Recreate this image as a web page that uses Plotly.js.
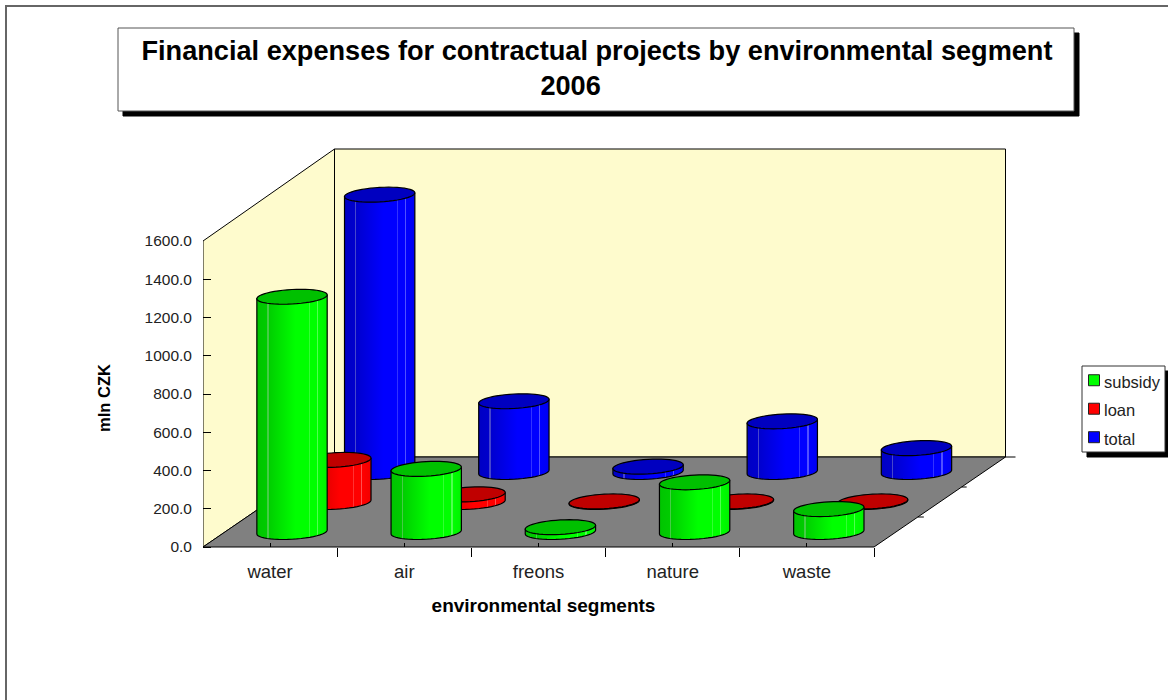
<!DOCTYPE html>
<html><head><meta charset="utf-8">
<script src="https://cdn.plot.ly/plotly-3.0.1.min.js"></script>
<style>html,body{margin:0;padding:0;background:#fff}</style>
</head><body><div id="chart" style="width:1168px;height:700px"></div>
<script>
const categories = ['water','air','freons','nature','waste'];
const subsidy = [1230,330,25,260,120];
const loan = [220,40,3,3,3];
const total = [1450,370,28,265,125];
const yTicks = [0,200,400,600,800,1000,1200,1400,1600];

const W=1168,H=700,L=203,R=874,T=241,B=547;
// outer drawing area (holds the oblique walls and floor)
const AL=203,AR=1030,AT=140,AB=555;
const kx=(R-L)/categories.length, ky=(B-T)/1600;
const DX=131.5/kx, DY=90/ky;               // depth vector in axis units
const ux=p=>p/kx, uy=p=>p/ky;
const px=x=>(x-AL)/(AR-AL), py=y=>(AB-y)/(AB-AT);

function line(xs,ys,color,width){return {x:xs,y:ys,mode:'lines',line:{color:color||'#000',width:width||1,simplify:false},
  hoverinfo:'skip',showlegend:false};}
function poly(xs,ys,color,width){return {x:xs,y:ys,mode:'lines',fill:'toself',fillcolor:color,line:{color:'#000',width:width||1,simplify:false},
  hoverinfo:'skip',showlegend:false};}

const n=categories.length, backTop=uy(B-149);
const traces=[];
traces.push(poly([0,DX,DX,0,0],[0,DY,backTop,1600,0],'#fefbcd'));
traces.push(poly([DX,n+DX,n+DX,DX,DX],[DY,DY,backTop,backTop,DY],'#fefbcd'));
traces.push(poly([0,n,n+DX,DX,0],[0,0,DY,DY,0],'#808080'));
// depth ticks on the floor's right edge
[[1/3,ux(6)],[2/3,ux(5)],[1,ux(10)]].forEach(([d,len])=>{
  traces.push(line([n+d*DX,n+d*DX+len],[d*DY,d*DY]));
});

function rgb(ch,v,l){const c=[l,l,l];c[ch]=v;return `rgb(${c[0]},${c[1]},${c[2]})`;}
function scale(ch){
  const s=(a,v,l)=>[a,rgb(ch,v,l||0)];
  return [s(0,196),s(.15,204),s(.15,204,70),s(.17,204,70),s(.17,206),s(.55,255),s(.74,255),s(.74,255,50),s(.755,255,50),s(.755,255),
          s(.855,255),s(.855,255,80),s(.875,255,80),s(.875,255),s(.96,246),s(1,240)];
}
const A=ux(34),Bx=ux(9),C=uy(7.5),t0=Math.atan2(9,34),STEPS=24;
function ell(cx,cy,t){return [cx+A*Math.cos(t)+Bx*Math.sin(t), cy+C*Math.sin(t)];}
function cylinder(i,row,val,ch){
  const d=(row+.5)/3, cx=i+.5+d*DX, cy=d*DY, top=cy+val;
  const bx=[],by=[];
  let p=ell(cx,top,t0); bx.push(p[0]); by.push(p[1]);
  for(let k=0;k<=STEPS;k++){p=ell(cx,cy,t0-Math.PI*k/STEPS);bx.push(p[0]);by.push(p[1]);}
  p=ell(cx,top,t0-Math.PI); bx.push(p[0]); by.push(p[1]); bx.push(bx[0]); by.push(by[0]);
  const left=cx-Math.hypot(A,Bx), right=cx+Math.hypot(A,Bx);
  const body=poly(bx,by,rgb(ch,255,0),1.2);
  body.fillgradient={type:'horizontal',start:left,stop:right,colorscale:scale(ch)};
  traces.push(body);
  const tx=[],ty=[];
  for(let k=0;k<=STEPS*2;k++){p=ell(cx,top,Math.PI*k/STEPS);tx.push(p[0]);ty.push(p[1]);}
  traces.push(poly(tx,ty,rgb(ch,192,0),1.2));
}
total.forEach((v,i)=>cylinder(i,2,v,2));
loan.forEach((v,i)=>cylinder(i,1,v,0));
subsidy.forEach((v,i)=>cylinder(i,0,v,1));

// legend entries live on the visible tick axes, which sit over the marks
[['subsidy','#00ff00'],['loan','#ff0000'],['total','#0000ff']].forEach(([name,c])=>{
  traces.push({x:[null],y:[null],xaxis:'x2',yaxis:'y2',mode:'markers',
    name:`<span style="font-size:16.5px">${name}</span>`,showlegend:true,hoverinfo:'skip',
    marker:{symbol:'square',size:11,color:c,line:{color:'#222',width:1}}});
});

const FONT='"Liberation Sans", Arial, sans-serif';
function rect(x0,y0,x1,y1,fill,lineColor,w){return {type:'rect',xref:'paper',yref:'paper',layer:'below',
  x0:px(x0),x1:px(x1),y0:py(y1),y1:py(y0),fillcolor:fill,line:{color:lineColor||fill,width:w===undefined?1:w}};}
const layout={
  width:W,height:H,paper_bgcolor:'#fff',plot_bgcolor:'rgba(0,0,0,0)',
  margin:{l:AL,r:W-AR,t:AT,b:H-AB,pad:0,autoexpand:false},
  font:{family:FONT,color:'#000'},
  title:{text:'<b>Financial expenses for contractual projects by environmental segment<br>2006&nbsp;&nbsp;&nbsp;&nbsp;&nbsp;&nbsp;&nbsp;</b>',
    font:{size:27.15,family:FONT,color:'#000'},xref:'container',yref:'container',x:597/W,xanchor:'center',y:1-60/H,yanchor:'top'},
  // axes that carry the marks
  xaxis:{domain:[0,1],range:[0,(AR-AL)/kx],visible:false,fixedrange:true},
  yaxis:{domain:[0,1],range:[-uy(AB-B),uy(B-AT)],visible:false,fixedrange:true},
  // visible axes with the same scale, drawn on top
  xaxis2:{anchor:'free',position:py(B),domain:[0,px(884)],range:[0,ux(884-L)],showgrid:false,zeroline:false,showline:false,
    tickmode:'array',tickvals:categories.map((c,i)=>i+.5),ticktext:categories,ticks:'inside',ticklen:4,tickcolor:'#000',
    tickfont:{size:18.5,family:FONT,color:'#222'},ticklabelstandoff:11,
    minor:{tickmode:'array',tickvals:categories.concat('').map((c,i)=>i),ticks:'outside',ticklen:9,tickcolor:'#000',showgrid:false},
    title:{text:'<b>environmental segments</b>',font:{size:19,family:FONT,color:'#000'},standoff:18}},
  yaxis2:{anchor:'x2',domain:[0,py(T)],range:[-uy(AB-B),1600],showgrid:false,zeroline:false,showline:false,
    tickmode:'array',tickvals:yTicks,tickformat:'.1f',ticks:'inside',ticklen:8,tickcolor:'#000',
    tickfont:{size:15.5,family:FONT,color:'#222'},ticklabelstandoff:10,
    title:{text:'<b>mln CZK</b>',font:{size:16.5,family:FONT,color:'#000'},standoff:29}},
  legend:{x:px(1074),xanchor:'left',y:py(361),yanchor:'top',bgcolor:'rgba(0,0,0,0)',borderwidth:0,
    font:{size:19.6,family:FONT,color:'#222'},indentation:-10,itemclick:false,itemdoubleclick:false},
  shapes:[
    rect(6,6,1300,800,'rgba(0,0,0,0)','#666',2),
    rect(123,33,1079,116,'#000'),
    rect(118,28,1074,111,'#fff','#555'),
    rect(1087,371,1172,457,'#000'),
    rect(1082,366,1165,452,'#fff','#333')
  ]
};
Plotly.newPlot('chart',traces,layout,{displayModeBar:false,staticPlot:true}).then(()=>{
  // the reference keeps its swatches close to the labels
  document.querySelectorAll('.legend .legendsymbols').forEach(g=>g.setAttribute('transform','translate(10,0)'));
});
</script></body></html>
